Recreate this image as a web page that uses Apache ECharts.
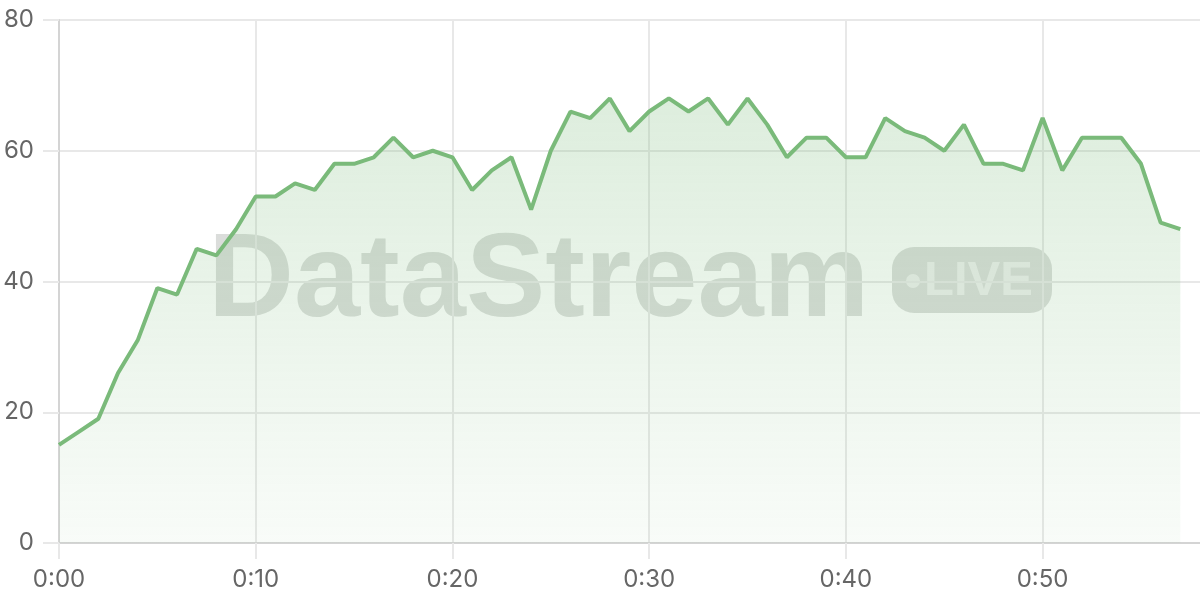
<!DOCTYPE html>
<html>
<head>
<meta charset="utf-8">
<script src="https://cdn.jsdelivr.net/npm/echarts@6/dist/echarts.min.js"></script>
<style>
  html, body { margin: 0; padding: 0; background: #fff; }
  #chart { width: 1200px; height: 600px; }
</style>
</head>
<body>
<div id="chart"></div>
<script>
// minutes 0:00 .. 0:58 (last slot has no data, it only pads the right edge)
var minutes = [];
for (var m = 0; m <= 58; m++) {
	minutes.push('0:' + (m < 10 ? '0' + m : m));
}

var viewers = [
	15, 17, 19, 26, 31, 39, 38, 45, 44, 48,
	53, 53, 55, 54, 58, 58, 59, 62, 59, 60,
	59, 54, 57, 59, 51, 60, 66, 65, 68, 63,
	66, 68, 66, 68, 64, 68, 64, 59, 62, 62,
	59, 59, 65, 63, 62, 60, 64, 58, 58, 57,
	65, 57, 62, 62, 62, 58, 49, 48
];

var yTicks = [0, 20, 40, 60, 80];

var gridColor = '#e8e8e8';
var axisColor = '#d4d4d4';
var labelFont = 'Inter, "Liberation Sans", sans-serif';

var chart = echarts.init(document.getElementById('chart'));

chart.setOption({
	animation: false,
	grid: {
		left: 59,
		right: 0,
		top: 20,
		bottom: 57,
		containLabel: false
	},
	xAxis: {
		type: 'category',
		data: minutes,
		boundaryGap: false,
		axisLine: {
			lineStyle: { color: axisColor, width: 2 }
		},
		axisTick: {
			show: true,
			interval: 9,
			length: 16,
			lineStyle: { color: gridColor, width: 2 }
		},
		axisLabel: {
			interval: 9,
			margin: 25,
			color: '#666',
			fontSize: 24,
			fontFamily: labelFont
		},
		splitLine: {
			show: true,
			interval: 9,
			lineStyle: { color: gridColor, width: 2 }
		}
	},
	yAxis: {
		type: 'value',
		min: yTicks[0],
		max: yTicks[yTicks.length - 1],
		interval: 20,
		axisLine: {
			show: true,
			lineStyle: { color: axisColor, width: 2 }
		},
		axisTick: {
			show: true,
			length: 16,
			lineStyle: { color: gridColor, width: 2 }
		},
		axisLabel: {
			margin: 25,
			color: '#666',
			fontSize: 24,
			fontFamily: labelFont
		},
		splitLine: {
			lineStyle: { color: gridColor, width: 2 }
		}
	},
	series: [{
		type: 'line',
		data: viewers,
		showSymbol: false,
		smooth: false,
		z: 3,
		lineStyle: {
			color: '#7aba7a',
			width: 4
		},
		areaStyle: {
			color: new echarts.graphic.LinearGradient(0, 0, 0, 1, [
				{ offset: 0, color: 'rgba(122, 186, 122, 0.36)' },
				{ offset: 1, color: 'rgba(122, 186, 122, 0.07)' }
			])
		}
	}],
	// watermark, sits under the line
	graphic: [{
		type: 'group',
		left: 208,
		top: 224,
		z: 1,
		silent: true,
		children: [{
			type: 'text',
			left: 0,
			top: 0,
			style: {
				text: 'DataStream',
				font: 'bold 119px "Liberation Sans", Arial, sans-serif',
				fill: 'rgba(110, 120, 110, 0.25)'
			}
		}, {
			type: 'rect',
			shape: { x: 684, y: 23, width: 160, height: 66, r: 22 },
			style: { fill: 'rgba(110, 120, 110, 0.25)' }
		}, {
			type: 'circle',
			shape: { cx: 705, cy: 57, r: 7 },
			style: { fill: 'rgba(255, 255, 255, 0.55)' }
		}, {
			type: 'text',
			x: 716,
			y: 33,
			style: {
				text: 'LIVE',
				font: 'bold 49px "Liberation Sans", Arial, sans-serif',
				fill: 'rgba(255, 255, 255, 0.55)'
			}
		}]
	}]
});
</script>
</body>
</html>
